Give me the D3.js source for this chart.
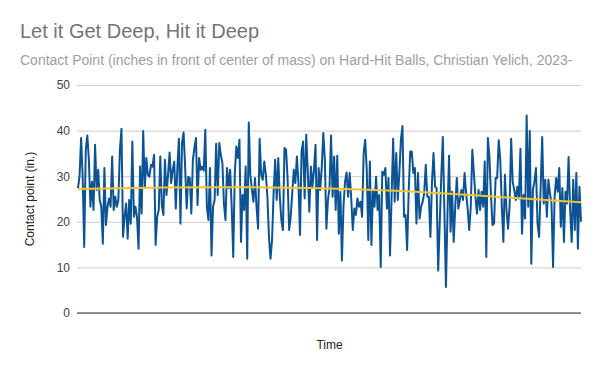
<!DOCTYPE html>
<html>
<head>
<meta charset="utf-8">
<script src="https://cdn.jsdelivr.net/npm/d3@7"></script>
<style>
  body { margin: 0; background: #fff; }
  svg { display: block; font-family: Arial, "Liberation Sans", sans-serif; }
</style>
</head>
<body>
<svg id="chart" width="600" height="371"></svg>
<script>
// contact point per hard-hit ball, in order
var contact = [
  27.4, 30, 38.4, 30, 14.5, 35.8, 38.9, 33.6, 23.3, 28.8, 22.6, 36.9, 27, 31.4, 24.8, 23.3,
  15.2, 31.8, 19.3, 23.3, 25.1, 23.3, 34.3, 22.6, 25.5, 23.3, 24.8, 35.8, 40.4, 16.7, 21.1,
  24, 16.3, 24.8, 19.6, 37.6, 21.1, 23.3, 21.1, 14.1, 32.1, 21.8, 39.9, 27.4, 34, 30.3, 29.9, 32.5,
  32.1, 34.7, 14.9, 21.1, 22.6, 34.3, 23.7, 21.5, 33.6, 25.9, 30.3, 35.2, 28.5, 31.4, 33.2,
  22.9, 31.8, 38.2, 19.6, 37.3, 39.6, 32.1, 22.9, 29.9, 29.6, 21.8, 33.6, 36.2, 38.4, 23.7,
  34, 31.4, 32.1, 31.2, 40.2, 23.3, 20.4, 31.8, 12.6, 23.3, 24.8, 37.1, 25.9, 37.3, 34.7,
  32.9, 24, 20.4, 31.8, 27.4, 31.4, 23.3, 12.3, 30.7, 36.5,
  34, 38, 15.6, 25.9, 22.6, 32.1, 11.9, 41.8, 30.3, 27, 24.4, 29.6, 23.3, 18.5, 38.2, 30.3,
  29.2, 33.2, 30.3, 25.5, 16.7, 11.9, 16, 26.3, 33.6, 24.8, 34, 25.5, 20.4, 18.2, 36.2, 35.8,
  29.6, 18.2, 21.1, 26.3, 31.4, 28.5, 34.3, 28.5, 17.1, 35.4, 37.6, 25.1, 39.1, 31, 22.2,
  32.1, 27.7, 31.4, 36.9, 16, 31.8, 27, 31.8, 39.5,
  33.6, 18.5, 24.8, 27.4, 38.9, 25.5, 34.3, 22.6, 34.5, 17.4, 26.6, 11.5, 23.3, 28.8, 30.8,
  25.5, 30.7, 25.1, 18.2, 22.9, 21.5, 25.1, 23.3, 24.4, 21.1, 35.1, 38, 31.4, 16, 33.2, 14.9,
  27, 23.3, 29.9, 22.6, 25.9, 10.1, 31, 30.3, 31.8, 22.9, 29.6, 12.6, 25.5, 38.2, 24.4, 35.1,
  24.8, 30.7, 38, 41, 21.1, 21.5, 13.8, 26.6, 35.4,
  35.4, 30.7, 31.8, 19.6, 30.7, 20.7, 23.3, 24.4, 26.3, 32.5, 25.5, 25.5, 16.7, 28.5, 35.1,
  27.7, 27.4, 9.3, 19.6, 29.9, 38.6, 22.6, 5.7, 21.8, 34.5, 17.8, 26.6, 15.6, 23.3, 29.6,
  22.9, 24.8, 27, 24.8, 30.7, 26.3, 22.9, 18.2, 23.3, 35.8, 30.7, 25.5, 21.8, 27, 22.6, 26.6,
  23.3, 33.2, 12.3, 38.4, 34.3, 25.9, 19.3, 19.6, 29.6, 29.6,
  37.9, 33.6, 23.3, 15.6, 30.3, 22.6, 18.5, 23.3, 38.2, 28.8, 27, 24.8, 27.7, 25.1, 36, 17.4,
  25.9, 20.7, 43.3, 23.3, 39.9, 10.8, 27, 28.8, 31.8, 19.6, 16.7, 27.4, 38.6, 24, 29.2, 21.1,
  29.2, 26.3, 24, 10.1, 25.5, 29.6, 26.6, 31.8, 18.9, 27.4, 15.6, 26.6, 24, 34.2, 22.6, 15.6,
  29.2, 18.2, 30.7, 14.1, 27.7, 20
];

// trend line read at a few spots along the series (fraction of the way, value)
var trendAt = [0, 0.17, 0.33, 0.5, 0.67, 0.83, 1];
var trendVal = [27.2, 27.5, 27.6, 27.3, 26.6, 25.5, 24.3];

var yTicks = [0, 10, 20, 30, 40, 50];

var title = "Let it Get Deep, Hit it Deep";
var subtitle = "Contact Point (inches in front of center of mass) on Hard-Hit Balls, Christian Yelich, 2023-";

var svg = d3.select("#chart"),
    margin = {left: 78, right: 19, top: 85, bottom: 58},
    width = 600 - margin.left - margin.right,
    height = 371 - margin.top - margin.bottom;

var x = d3.scaleLinear().domain([0, contact.length - 1]).range([margin.left, margin.left + width]);
var y = d3.scaleLinear().domain([0, 50]).range([margin.top + height, margin.top]);

svg.append("text")
    .attr("x", 20).attr("y", 38)
    .attr("font-size", 20).attr("fill", "#757575")
    .text(title);

svg.append("text")
    .attr("x", 20).attr("y", 65)
    .attr("font-size", 14).attr("fill", "#9e9e9e")
    .text(subtitle);

// grid
var yAxis = d3.axisLeft(y).tickValues(yTicks).tickSize(-width).tickPadding(8);
var gy = svg.append("g")
    .attr("transform", "translate(" + margin.left + ",0)")
    .call(yAxis);
gy.select(".domain").remove();
gy.selectAll(".tick line").attr("stroke", "#cccccc").attr("x1", -1);
gy.selectAll(".tick text").attr("fill", "#444").attr("font-size", 12).attr("font-family", "Arial, 'Liberation Sans', sans-serif");

var line = d3.line()
    .x(function(d, i) { return x(i); })
    .y(function(d) { return y(d); });

svg.append("path")
    .datum(contact)
    .attr("fill", "none")
    .attr("stroke", "#0b5394")
    .attr("stroke-width", 2)
    .attr("stroke-linejoin", "round")
    .attr("d", line);

var trendLine = d3.line()
    .curve(d3.curveMonotoneX)
    .x(function(d, i) { return x(trendAt[i] * (contact.length - 1)); })
    .y(function(d) { return y(d); });

svg.append("path")
    .datum(trendVal)
    .attr("fill", "none")
    .attr("stroke", "#f1c232")
    .attr("stroke-width", 2)
    .attr("d", trendLine);

// zero baseline
svg.append("line")
    .attr("x1", margin.left - 1).attr("x2", margin.left + width)
    .attr("y1", y(0)).attr("y2", y(0))
    .attr("stroke", "#333").attr("stroke-width", 1);

svg.append("text")
    .attr("x", margin.left + width / 2).attr("y", 349)
    .attr("text-anchor", "middle")
    .attr("font-size", 12).attr("fill", "#222")
    .text("Time");

svg.append("text")
    .attr("transform", "translate(34," + (margin.top + height / 2) + ") rotate(-90)")
    .attr("text-anchor", "middle")
    .attr("font-size", 12).attr("fill", "#222")
    .text("Contact point (in.)");
</script>
</body>
</html>
